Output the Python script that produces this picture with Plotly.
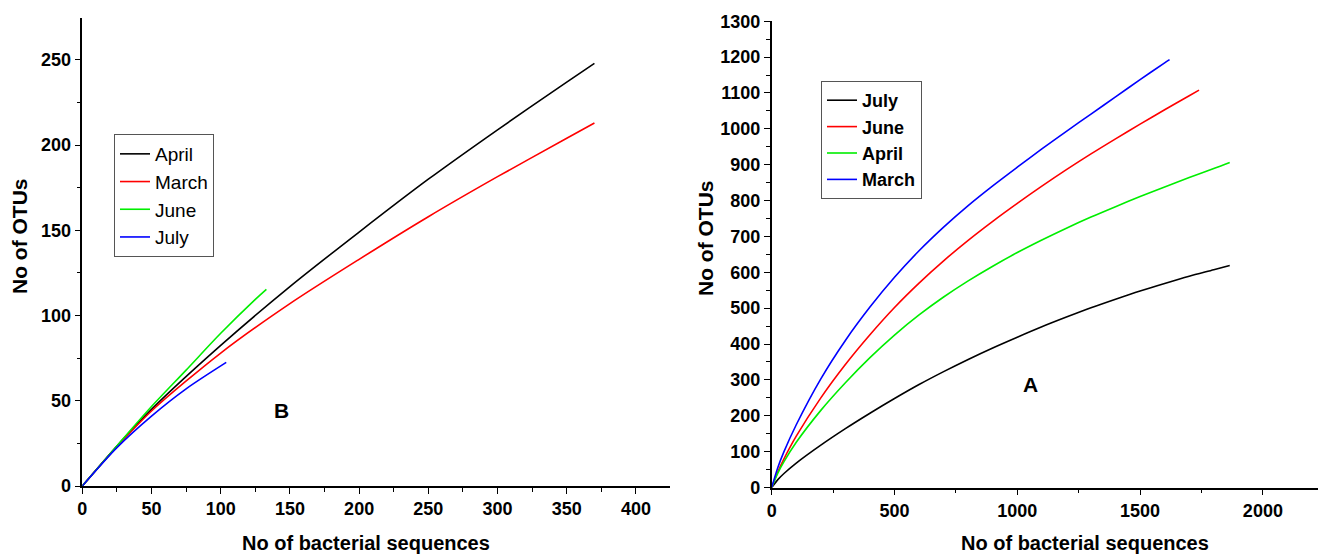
import plotly.graph_objects as go

# ---- Panel B (left) data ----
b_april_x = [0, 25, 50, 100, 150, 200, 250, 300, 350, 370]
b_april_y = [0, 23.5, 45, 82.5, 117, 149, 180, 209, 237, 248]
b_march_x = [0, 25, 50, 100, 150, 200, 250, 300, 350, 370]
b_march_y = [0, 23, 44, 78, 107, 133, 158, 181.5, 204, 213]
b_june_x = [0, 25, 50, 75, 100, 125, 133]
b_june_y = [0, 23.5, 46.6, 68, 89.6, 109.5, 115.4]
b_july_x = [0, 25, 50, 75, 104]
b_july_y = [0, 22.5, 41, 57, 72.5]

# ---- Panel A (right) data ----
a_july_x = [0, 25, 50, 100, 200, 300, 400, 500, 600, 700, 800, 900, 1000, 1100, 1200,
            1300, 1400, 1500, 1600, 1700, 1800, 1865]
a_july_y = [0, 22, 39, 68, 118, 164, 207, 248, 287, 323, 357, 389, 419, 448, 475,
            501, 525, 548, 569, 589, 607, 619]
a_june_x = [0, 25, 50, 100, 200, 300, 400, 500, 600, 700, 800, 900, 1000, 1100, 1200,
            1300, 1400, 1500, 1600, 1700, 1740]
a_june_y = [0, 44, 80, 143, 250, 343, 426, 502, 570, 632, 689, 742, 792, 840, 886,
            930, 972, 1013, 1053, 1092, 1108]
a_april_x = [0, 25, 50, 100, 200, 300, 400, 500, 600, 700, 800, 900, 1000, 1100, 1200,
             1300, 1400, 1500, 1600, 1700, 1800, 1865]
a_april_y = [0, 40, 72, 126, 215, 292, 362, 425, 481, 531, 576, 617, 655, 690, 723,
             754, 783, 811, 838, 864, 889, 906]
a_march_x = [0, 25, 50, 100, 200, 300, 400, 500, 600, 700, 800, 900, 1000, 1100, 1200,
             1300, 1400, 1500, 1600, 1620]
a_march_y = [0, 56, 100, 175, 303, 410, 503, 586, 660, 726, 786, 841, 893, 944, 993,
             1041, 1089, 1137, 1184, 1193]

# The page body has an 8px margin, so the figure starts 8px in from the window corner.
OFF = 8
FW, FH = 1326 - OFF, 555 - OFF
def px(x):
    return (x - OFF) / FW
def py(y):
    return 1 - (y - OFF) / FH

NARROW = "Liberation Sans Narrow, Arial Narrow, Liberation Sans, Arial"
SANS = "Liberation Sans, Arial"

fig = go.Figure()

def add(x, y, name, color, xa, ya, legend):
    fig.add_trace(go.Scatter(x=x, y=y, mode="lines", name=name,
                             line=dict(color=color, width=1.6, shape="spline", smoothing=0.8),
                             xaxis=xa, yaxis=ya, legend=legend))

add(b_april_x, b_april_y, "April", "#000000", "x", "y", "legend")
add(b_march_x, b_march_y, "March", "#ff0000", "x", "y", "legend")
add(b_june_x, b_june_y, "June", "#00ee00", "x", "y", "legend")
add(b_july_x, b_july_y, "July", "#0000ff", "x", "y", "legend")

add(a_july_x, a_july_y, "July", "#000000", "x2", "y2", "legend2")
add(a_june_x, a_june_y, "June", "#ff0000", "x2", "y2", "legend2")
add(a_april_x, a_april_y, "April", "#00ee00", "x2", "y2", "legend2")
add(a_march_x, a_march_y, "March", "#0000ff", "x2", "y2", "legend2")

tickfont = dict(family=NARROW, size=18, color="black", weight="bold")
axis_common = dict(showline=True, linecolor="black", linewidth=1.5, ticks="outside",
                   ticklen=6, tickwidth=1.2, tickcolor="black", showgrid=False,
                   zeroline=False, tickfont=tickfont, mirror=False, automargin=False)

fig.update_layout(
    width=FW, height=FH,
    margin=dict(l=0, r=0, t=0, b=0),
    paper_bgcolor="white", plot_bgcolor="white",
    xaxis=dict(domain=[px(82.3), px(670)], range=[0, 424.6], dtick=50, tick0=0,
               minor=dict(dtick=25, ticks="outside", ticklen=4, tickcolor="black"),
               anchor="y", **axis_common),
    yaxis=dict(domain=[py(486), py(18)], range=[0, 274.6], dtick=50, tick0=0,
               minor=dict(dtick=25, ticks="outside", ticklen=4, tickcolor="black"),
               anchor="x", **axis_common),
    xaxis2=dict(domain=[px(771.7), 1.0], range=[0, 2257], dtick=500, tick0=0,
                minor=dict(dtick=250, ticks="outside", ticklen=4, tickcolor="black"),
                anchor="y2", **axis_common),
    yaxis2=dict(domain=[py(487.5), py(21.2)], range=[0, 1300], dtick=100, tick0=0,
                minor=dict(dtick=50, ticks="outside", ticklen=4, tickcolor="black"),
                anchor="x2", **axis_common),
    legend=dict(x=px(114), y=py(134), xanchor="left", yanchor="top",
                bordercolor="#555555", borderwidth=1, bgcolor="white",
                font=dict(family=NARROW, size=19, color="black"),
                tracegroupgap=0, itemwidth=30),
    legend2=dict(x=px(821), y=py(81), xanchor="left", yanchor="top",
                 bordercolor="#555555", borderwidth=1, bgcolor="white",
                 font=dict(family=SANS, size=18, color="black", weight="bold"),
                 tracegroupgap=0, itemwidth=30),
    showlegend=True,
)

title_font = dict(family=SANS, size=20, color="black", weight="bold")
fig.add_annotation(text="No of bacterial sequences", xref="paper", yref="paper",
                   x=px(366), y=py(543), showarrow=False, font=title_font,
                   xanchor="center", yanchor="middle")
fig.add_annotation(text="No of bacterial sequences", xref="paper", yref="paper",
                   x=px(1085), y=py(543), showarrow=False, font=title_font,
                   xanchor="center", yanchor="middle")
yt_font = dict(family=SANS, size=21, color="black", weight="bold")
fig.add_annotation(text="No of OTUs", xref="paper", yref="paper",
                   x=px(19), y=py(236), showarrow=False, font=yt_font,
                   textangle=-90, xanchor="center", yanchor="middle")
fig.add_annotation(text="No of OTUs", xref="paper", yref="paper",
                   x=px(706), y=py(238), showarrow=False, font=yt_font,
                   textangle=-90, xanchor="center", yanchor="middle")

letter_font = dict(family=SANS, size=21, color="black", weight="bold")
fig.add_annotation(text="B", xref="x", yref="y", x=144, y=44.5, showarrow=False,
                   font=letter_font)
fig.add_annotation(text="A", xref="x2", yref="y2", x=1052, y=286, showarrow=False,
                   font=letter_font)

fig.write_html("out.html")
